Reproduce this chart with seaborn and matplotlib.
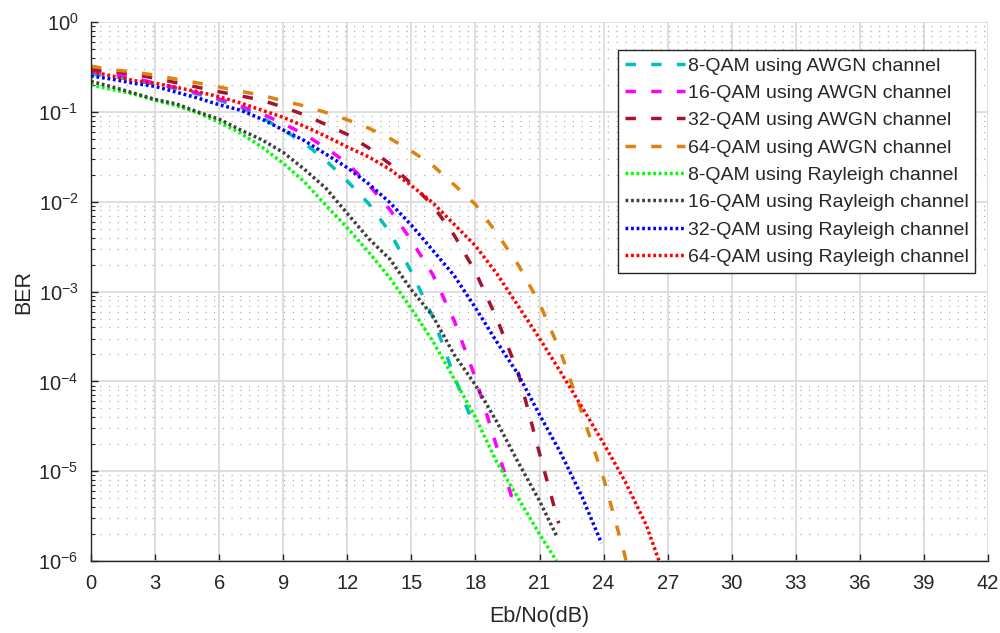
import numpy as np
import pandas as pd
import matplotlib
matplotlib.use("Agg")
import matplotlib.pyplot as plt
import seaborn as sns
from matplotlib.ticker import FixedLocator, LogLocator, LogFormatterMathtext, NullFormatter
from matplotlib.lines import Line2D

# ---- data (Eb/No in dB, BER as log10 values) ----
snr_awgn8 = [0, 1, 2, 3, 4, 5, 6, 7, 8, 9, 10, 11, 12, 13, 14, 15, 16, 17, 17.9]
ber_awgn8_log = [-0.58, -0.60, -0.645, -0.69, -0.74, -0.80, -0.87, -0.95, -1.06, -1.20, -1.35,
                 -1.54, -1.77, -2.02, -2.34, -2.78, -3.28, -3.94, -4.47]

snr_awgn16 = [0, 1, 2, 3, 4, 5, 6, 7, 8, 9, 10, 11, 12, 13, 14, 15, 16, 17, 18, 19, 19.9]
ber_awgn16_log = [-0.55, -0.565, -0.62, -0.68, -0.73, -0.79, -0.855, -0.935, -1.02, -1.13, -1.25,
                  -1.40, -1.57, -1.81, -2.09, -2.43, -2.81, -3.32, -3.96, -4.73, -5.45]

snr_awgn32 = [0, 1, 2, 3, 4, 5, 6, 7, 8, 9, 10, 11, 12, 13, 14, 15, 16, 17, 18, 19, 20, 21, 21.9]
ber_awgn32_log = [-0.53, -0.545, -0.58, -0.625, -0.675, -0.725, -0.775, -0.82, -0.87, -0.945, -1.033,
                  -1.14, -1.25, -1.40, -1.58, -1.80, -2.04, -2.37, -2.78, -3.30, -3.90, -4.80, -5.58]

snr_awgn64 = [0, 1, 2, 3, 4, 5, 6, 7, 8, 9, 10, 11, 12, 13, 14, 15, 16, 17, 18, 19, 20, 21, 22, 23,
              24, 25, 25.05]
ber_awgn64_log = [-0.49, -0.53, -0.555, -0.59, -0.635, -0.677, -0.722, -0.77, -0.814, -0.877, -0.933,
                  -1.006, -1.087, -1.18, -1.295, -1.435, -1.595, -1.81, -2.03, -2.35, -2.70, -3.13,
                  -3.68, -4.36, -5.08, -5.94, -6.0]

snr_ray8 = [0, 1, 2, 3, 4, 5, 6, 7, 8, 9, 10, 11, 12, 13, 14, 15, 16, 17, 18, 19, 20, 21, 21.8]
ber_ray8_log = [-0.70, -0.75, -0.80, -0.87, -0.93, -1.01, -1.115, -1.235, -1.39, -1.57, -1.78,
                -2.04, -2.29, -2.56, -2.85, -3.19, -3.55, -3.97, -4.40, -4.90, -5.30, -5.70, -6.0]

snr_ray16 = [0, 1, 2, 3, 4, 5, 6, 7, 8, 9, 10, 11, 12, 13, 14, 15, 16, 17, 18, 19, 20, 21, 21.8]
ber_ray16_log = [-0.66, -0.72, -0.79, -0.86, -0.91, -1.00, -1.08, -1.20, -1.31, -1.45, -1.64,
                 -1.85, -2.13, -2.41, -2.64, -2.98, -3.27, -3.70, -4.04, -4.45, -4.90, -5.33, -5.72]

snr_ray32 = [0, 1, 2, 3, 4, 5, 6, 7, 8, 9, 10, 11, 12, 13, 14, 15, 16, 17, 18, 19, 20, 21, 22, 23, 23.9]
ber_ray32_log = [-0.60, -0.635, -0.68, -0.715, -0.78, -0.845, -0.92, -0.98, -1.08, -1.20, -1.32,
                 -1.47, -1.62, -1.80, -2.01, -2.26, -2.54, -2.82, -3.18, -3.56, -3.92, -4.37, -4.80,
                 -5.29, -5.80]

snr_ray64 = [0, 1, 2, 3, 4, 5, 6, 7, 8, 9, 10, 11, 12, 13, 14, 15, 16, 17, 18, 19, 20, 21, 22, 23,
             24, 25, 26, 26.6]
ber_ray64_log = [-0.55, -0.60, -0.65, -0.68, -0.727, -0.775, -0.83, -0.90, -0.98, -1.06, -1.16,
                 -1.27, -1.39, -1.50, -1.64, -1.82, -2.01, -2.25, -2.49, -2.80, -3.16, -3.52, -3.90,
                 -4.29, -4.69, -5.11, -5.60, -6.0]

labels = ["8-QAM using AWGN channel", "16-QAM using AWGN channel", "32-QAM using AWGN channel",
          "64-QAM using AWGN channel", "8-QAM using Rayleigh channel", "16-QAM using Rayleigh channel",
          "32-QAM using Rayleigh channel", "64-QAM using Rayleigh channel"]
colors = ["#00BFBF", "#FF00FF", "#A2142F", "#E0820F", "#00FF00", "#404040", "#0000FF", "#FF0000"]
x_ticks = [0, 3, 6, 9, 12, 15, 18, 21, 24, 27, 30, 33, 36, 39, 42]
y_ticks = [1e-6, 1e-5, 1e-4, 1e-3, 1e-2, 1e-1, 1e0]

series = [(snr_awgn8, ber_awgn8_log), (snr_awgn16, ber_awgn16_log), (snr_awgn32, ber_awgn32_log),
          (snr_awgn64, ber_awgn64_log), (snr_ray8, ber_ray8_log), (snr_ray16, ber_ray16_log),
          (snr_ray32, ber_ray32_log), (snr_ray64, ber_ray64_log)]

frames = []
for lab, (x, ylog) in zip(labels, series):
    frames.append(pd.DataFrame({"snr": x, "ber": 10 ** np.array(ylog), "series": lab}))
df = pd.concat(frames, ignore_index=True)

# ---- style ----
sns.set_theme(style="white")
plt.rcParams["font.family"] = ["Liberation Sans", "DejaVu Sans"]
plt.rcParams["mathtext.default"] = "regular"
plt.rcParams["axes.unicode_minus"] = False
text_col = "#262626"

fig = plt.figure(figsize=(10, 6.33), dpi=100)
ax = fig.add_axes([0.091, 0.1137, 0.897, 0.8513])

palette = dict(zip(labels, colors))
dash_awgn = (3.0, 4.4)
dash_ray = (0.8, 0.8)
dashes = {lab: (dash_awgn if "AWGN" in lab else dash_ray) for lab in labels}
widths = {lab: 2.5 for lab in labels}

sns.lineplot(data=df, x="snr", y="ber", hue="series", style="series", hue_order=labels,
             style_order=labels, palette=palette, dashes=dashes, sort=False,
             estimator=None, ax=ax, legend=False)

for line, lab in zip(ax.get_lines(), labels):
    line.set_linewidth(widths[lab])
    line.set_dash_capstyle("butt")

ax.set_yscale("log")
ax.set_xlim(0, 42)
ax.set_ylim(1e-6, 1)
ax.xaxis.set_major_locator(FixedLocator(x_ticks))
ax.yaxis.set_major_locator(FixedLocator(y_ticks))
ax.yaxis.set_minor_locator(LogLocator(base=10, subs=np.arange(2, 10), numticks=100))
ax.yaxis.set_major_formatter(LogFormatterMathtext())
ax.yaxis.set_minor_formatter(NullFormatter())

ax.grid(which="major", axis="both", color="#D9D9D9", linewidth=1.2, linestyle="-")
ax.grid(which="minor", axis="y", color="#B0B0B0", linewidth=0.9, linestyle=(0, (1, 6)))
ax.set_axisbelow(True)

for side in ["top", "right"]:
    ax.spines[side].set_visible(False)
for side in ["left", "bottom"]:
    ax.spines[side].set_color("#262626")
    ax.spines[side].set_linewidth(1.0)

ax.tick_params(axis="both", which="major", direction="in", length=5, width=1.0,
               colors=text_col, labelsize=14.5, pad=9, left=True, bottom=True)
ax.tick_params(axis="y", which="minor", direction="in", length=3, width=0.8, color=text_col, left=True)
ax.tick_params(axis="x", which="minor", bottom=False)

ax.set_xlabel("Eb/No(dB)", fontsize=15.5, color=text_col, labelpad=10)
ax.set_ylabel("BER", fontsize=15.5, color=text_col, labelpad=3)

handles = [Line2D([0], [0], color=c, linewidth=widths[l],
                  linestyle=(0, dashes[l]), dash_capstyle="butt") for l, c in zip(labels, colors)]
leg = ax.legend(handles, labels, loc="upper right", bbox_to_anchor=(0.986, 0.948), fontsize=14,
                frameon=True, fancybox=False, framealpha=1, edgecolor="#262626",
                handlelength=3.1, handletextpad=0.15, labelspacing=0.5, borderpad=0.35,
                borderaxespad=0)
leg.get_frame().set_linewidth(1.0)
for t in leg.get_texts():
    t.set_color(text_col)

fig.savefig("out.png", dpi=100, facecolor="white")
